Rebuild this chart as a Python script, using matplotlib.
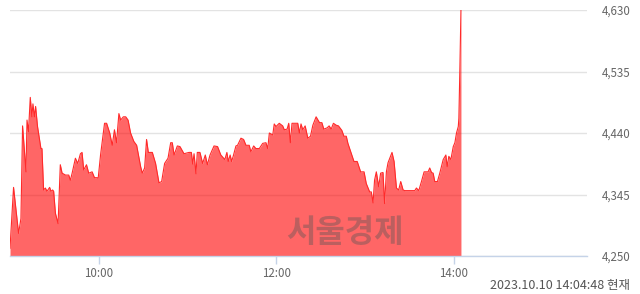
import matplotlib
matplotlib.use("Agg")
import matplotlib.pyplot as plt

plt.rcParams['font.family'] = ['Noto Sans CJK KR', 'DejaVu Sans']

# minutes since 09:00
times = [0, 2.4, 5.8, 7.4, 8.5, 10.8, 11.5, 12.5, 13.7, 14.8, 15.5, 16.5, 17.3, 18.6,
         20.9, 21.6, 22.7, 23.9, 25, 26.8, 27.7, 28.8, 29.5, 30.7, 32.5, 34.0, 35.2,
         37.5, 39.7, 40.8, 42.0, 44.2, 45.8, 47.6, 48.7, 49.8, 51.7, 53.2, 55.5, 57.1,
         58.9, 59.6, 61.2, 63.9, 65.3, 67.4, 69.1, 70.6, 72.0, 73.6, 74.8, 76.6, 78.2,
         79.8, 81.5, 83.7, 85.6, 88.3, 89.4, 91.0, 92.3, 93.5, 96.2, 98.4, 100.7, 102.5,
         104.5, 106.8, 108.6, 109.7, 110.9, 113.1, 114.9, 117.6, 121.0, 122.6, 123.5,
         124.4, 125.7, 126.6, 128.4, 130.2, 132.0, 133.4, 135.2, 137.9, 140.3, 142.5,
         145.2, 146.6, 147.5, 148.8, 149.8, 151.1, 152.7, 153.8, 156.1, 157.9, 159.5,
         161.7, 162.8, 164.7, 166.2, 168.5, 170.8, 173.0, 174.2, 175.3, 177.6, 178.6,
         179.8, 182.0, 184.3, 185.4, 187.3, 188.4, 189.5, 190.6, 194.5, 195.6, 196.7,
         197.9, 199.5, 201.3, 203.1, 204.7, 206.9, 209.2, 210.8, 212.1, 214.4, 215.7,
         217.1, 218.6, 220.5, 222.0, 224.3, 225.7, 227.3, 228.4, 230.6, 232.5, 234.7,
         237.0, 239.3, 240.8, 243.1, 244.2, 245.4, 246.4, 247.6, 249.2, 250.5, 252.1,
         253.2, 254.4, 255.5, 258.2, 259.6, 261.2, 262.7, 264.1, 265.7, 266.8, 273.6,
         274.7, 276.3, 278.1, 279.9, 282.6, 283.7, 284.9, 286.0, 287.1, 288.9, 290.5,
         292.8, 294.6, 295.5, 296.6, 298.0, 299.6, 300.7, 301.8, 303.0, 303.4, 304.1,
         304.8]
prices = [4262, 4356, 4285, 4308, 4451, 4380, 4460, 4442, 4495, 4465, 4485, 4465, 4481, 4450,
          4416, 4416, 4352, 4355, 4350, 4356, 4350, 4352, 4350, 4316, 4300, 4391, 4378,
          4375, 4375, 4367, 4378, 4401, 4393, 4408, 4410, 4383, 4391, 4378, 4380, 4371,
          4371, 4370, 4406, 4455, 4455, 4440, 4421, 4445, 4425, 4470, 4460, 4465, 4465,
          4460, 4440, 4427, 4421, 4388, 4378, 4386, 4430, 4410, 4410, 4393, 4363, 4365,
          4393, 4401, 4425, 4425, 4406, 4420, 4419, 4408, 4410, 4410, 4392,
          4408, 4377, 4410, 4410, 4393, 4406, 4391, 4406, 4420, 4419, 4406,
          4399, 4410, 4396, 4406, 4396, 4406, 4420, 4421, 4432, 4430, 4421,
          4421, 4411, 4420, 4416, 4416, 4424, 4425, 4416, 4440, 4437, 4454,
          4450, 4455, 4451, 4445, 4446, 4455, 4425, 4455, 4455, 4440, 4454,
          4445, 4451, 4432, 4435, 4452, 4465, 4456, 4456, 4446, 4448, 4451,
          4446, 4455, 4452, 4451, 4444, 4435, 4435, 4424, 4409, 4396, 4396,
          4380, 4380, 4362, 4349, 4349, 4332, 4367, 4380, 4357, 4378, 4379,
          4331, 4380, 4394, 4410, 4396, 4355, 4352, 4365, 4352, 4351, 4351,
          4355, 4351, 4365, 4380, 4380, 4386, 4379, 4378, 4365, 4365, 4378,
          4399, 4406, 4388, 4404, 4399, 4419, 4425, 4440, 4450, 4463, 4542,
          4630]

y_ticks = [4250, 4345, 4440, 4535, 4630]
y_labels = ["4,250", "4,345", "4,440", "4,535", "4,630"]
x_ticks = [60, 180, 300]
x_labels = ["10:00", "12:00", "14:00"]
stamp = "2023.10.10 14:04:48 현재"
watermark = "서울경제"

fig = plt.figure(figsize=(6.4, 2.94), dpi=100)
W, H = 640, 294
ax = fig.add_axes([10 / W, 1 - 256 / H, (587 - 10) / W, (256 - 10) / H])
ax.set_xlim(0, 390)
ax.set_ylim(4250, 4630)

ax.fill_between(times, prices, 4250, color='#ff0000', alpha=0.6, linewidth=0, zorder=2)
ax.plot(times, prices, color='#ff2a2a', lw=0.8, zorder=3)

for s in ['top', 'right', 'left']:
    ax.spines[s].set_visible(False)
ax.spines['bottom'].set_color('#c5d3e8')
ax.spines['bottom'].set_linewidth(1)

ax.set_yticks(y_ticks)
ax.set_yticklabels(y_labels)
ax.yaxis.tick_right()
ax.tick_params(axis='y', length=0, pad=11, labelsize=8.3, labelcolor='#666666')
ax.grid(axis='y', color='#e3e3e3', lw=1, zorder=1)
ax.set_axisbelow(True)

ax.set_xticks(x_ticks)
ax.set_xticklabels(x_labels)
ax.tick_params(axis='x', length=6, width=1, color='#c5d3e8', pad=2, labelsize=8.3,
               labelcolor='#666666', direction='out')

ax.text(345 / W * W / 577 - 10 / 577, 0.095, watermark, transform=ax.transAxes,
        ha='center', va='center',
        fontsize=23, fontweight='bold', color='#555555', alpha=0.4, zorder=4,
        family=['Noto Sans CJK KR', 'DejaVu Sans'])

fig.text(630 / W, 1 - 285 / H, stamp, ha='right', va='center', fontsize=9,
         color='#555555', family=['Noto Sans CJK KR', 'DejaVu Sans'])

fig.savefig('out.png', dpi=100)
